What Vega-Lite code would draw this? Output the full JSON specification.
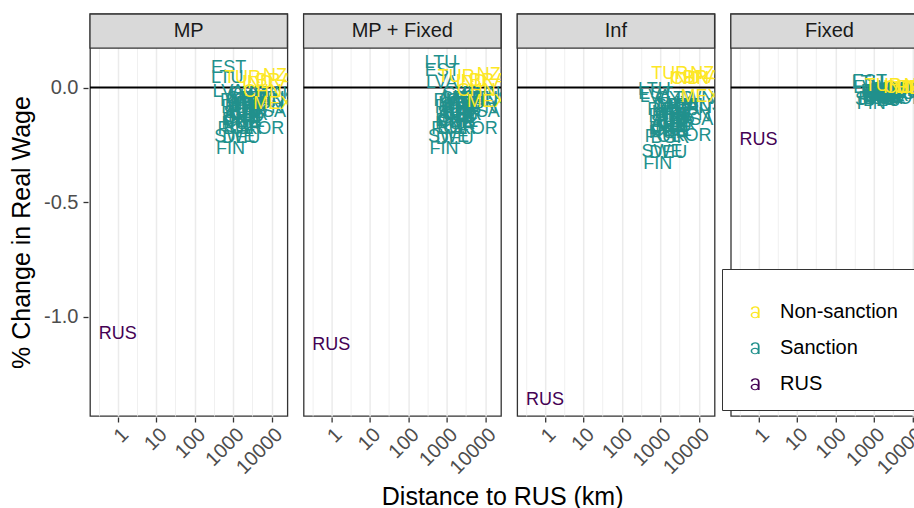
{
  "$schema": "https://vega.github.io/schema/vega-lite/v6.json",
  "padding": {"left": 9, "top": 12, "right": 0, "bottom": 0},
  "config": {
    "font": "Liberation Sans",
    "view": {"stroke": "#333333", "strokeWidth": 1.3, "fill": "white"},
    "axis": {"domain": false, "tickColor": "#333333", "tickWidth": 1.3, "tickSize": 5, "labelColor": "#4d4d4d", "labelFontSize": 20, "labelFont": "Liberation Sans", "titleFont": "Liberation Sans", "titleFontSize": 25, "titleFontWeight": "normal", "titleColor": "black", "gridColor": "#ebebeb"}
  },
  "title": {"text": "Distance to RUS (km)", "orient": "bottom", "anchor": "middle", "fontSize": 25, "fontWeight": "normal", "font": "Liberation Sans", "color": "black", "offset": 8, "dx": 33},
  "data": {"values": [
      {"c": "EST", "g": "Sanction", "d": 760, "MP": 0.085, "MP + Fixed": 0.07, "Inf": -0.03, "Fixed": 0.025},
      {"c": "LTU", "g": "Sanction", "d": 700, "MP": 0.04, "MP + Fixed": 0.105, "Inf": -0.01, "Fixed": 0.02},
      {"c": "LVA", "g": "Sanction", "d": 740, "MP": -0.02, "MP + Fixed": 0.02, "Inf": -0.04, "Fixed": 0.0},
      {"c": "FIN", "g": "Sanction", "d": 850, "MP": -0.27, "MP + Fixed": -0.27, "Inf": -0.335, "Fixed": -0.07},
      {"c": "SWE", "g": "Sanction", "d": 1100, "MP": -0.215, "MP + Fixed": -0.215, "Inf": -0.28, "Fixed": -0.055},
      {"c": "DEU", "g": "Sanction", "d": 1610, "MP": -0.22, "MP + Fixed": -0.225, "Inf": -0.285, "Fixed": -0.06},
      {"c": "POL", "g": "Sanction", "d": 1150, "MP": -0.18, "MP + Fixed": -0.18, "Inf": -0.215, "Fixed": -0.05},
      {"c": "NOR", "g": "Sanction", "d": 1650, "MP": -0.16, "MP + Fixed": -0.16, "Inf": -0.2, "Fixed": -0.045},
      {"c": "DNK", "g": "Sanction", "d": 1560, "MP": -0.14, "MP + Fixed": -0.145, "Inf": -0.18, "Fixed": -0.04},
      {"c": "NLD", "g": "Sanction", "d": 2150, "MP": -0.13, "MP + Fixed": -0.13, "Inf": -0.17, "Fixed": -0.04},
      {"c": "BEL", "g": "Sanction", "d": 2250, "MP": -0.11, "MP + Fixed": -0.115, "Inf": -0.15, "Fixed": -0.035},
      {"c": "LUX", "g": "Sanction", "d": 2300, "MP": -0.04, "MP + Fixed": -0.045, "Inf": -0.07, "Fixed": -0.015},
      {"c": "FRA", "g": "Sanction", "d": 2490, "MP": -0.1, "MP + Fixed": -0.1, "Inf": -0.14, "Fixed": -0.03},
      {"c": "CHE", "g": "Sanction", "d": 2200, "MP": -0.08, "MP + Fixed": -0.085, "Inf": -0.12, "Fixed": -0.025},
      {"c": "AUT", "g": "Sanction", "d": 1670, "MP": -0.12, "MP + Fixed": -0.12, "Inf": -0.16, "Fixed": -0.035},
      {"c": "CZE", "g": "Sanction", "d": 1670, "MP": -0.15, "MP + Fixed": -0.15, "Inf": -0.19, "Fixed": -0.045},
      {"c": "SVK", "g": "Sanction", "d": 1650, "MP": -0.11, "MP + Fixed": -0.11, "Inf": -0.15, "Fixed": -0.035},
      {"c": "HUN", "g": "Sanction", "d": 1570, "MP": -0.09, "MP + Fixed": -0.09, "Inf": -0.13, "Fixed": -0.03},
      {"c": "ROU", "g": "Sanction", "d": 1500, "MP": -0.06, "MP + Fixed": -0.06, "Inf": -0.1, "Fixed": -0.02},
      {"c": "BGR", "g": "Sanction", "d": 1780, "MP": -0.18, "MP + Fixed": -0.18, "Inf": -0.22, "Fixed": -0.05},
      {"c": "SVN", "g": "Sanction", "d": 1800, "MP": -0.13, "MP + Fixed": -0.13, "Inf": -0.17, "Fixed": -0.04},
      {"c": "HRV", "g": "Sanction", "d": 1850, "MP": -0.07, "MP + Fixed": -0.07, "Inf": -0.11, "Fixed": -0.02},
      {"c": "GRC", "g": "Sanction", "d": 2200, "MP": -0.05, "MP + Fixed": -0.05, "Inf": -0.08, "Fixed": -0.015},
      {"c": "CYP", "g": "Sanction", "d": 2300, "MP": -0.03, "MP + Fixed": -0.03, "Inf": -0.05, "Fixed": -0.01},
      {"c": "MLT", "g": "Sanction", "d": 2600, "MP": -0.06, "MP + Fixed": -0.06, "Inf": -0.09, "Fixed": -0.02},
      {"c": "ITA", "g": "Sanction", "d": 2380, "MP": -0.08, "MP + Fixed": -0.08, "Inf": -0.12, "Fixed": -0.025},
      {"c": "ESP", "g": "Sanction", "d": 3440, "MP": -0.07, "MP + Fixed": -0.07, "Inf": -0.1, "Fixed": -0.02},
      {"c": "PRT", "g": "Sanction", "d": 3900, "MP": -0.05, "MP + Fixed": -0.05, "Inf": -0.08, "Fixed": -0.015},
      {"c": "GBR", "g": "Sanction", "d": 2500, "MP": -0.12, "MP + Fixed": -0.12, "Inf": -0.16, "Fixed": -0.035},
      {"c": "IRL", "g": "Sanction", "d": 2800, "MP": -0.15, "MP + Fixed": -0.15, "Inf": -0.19, "Fixed": -0.045},
      {"c": "CAN", "g": "Sanction", "d": 7000, "MP": -0.06, "MP + Fixed": -0.06, "Inf": -0.09, "Fixed": -0.02},
      {"c": "USA", "g": "Sanction", "d": 7800, "MP": -0.105, "MP + Fixed": -0.105, "Inf": -0.14, "Fixed": -0.03},
      {"c": "JPN", "g": "Sanction", "d": 7500, "MP": -0.09, "MP + Fixed": -0.09, "Inf": -0.12, "Fixed": -0.025},
      {"c": "KOR", "g": "Sanction", "d": 6600, "MP": -0.18, "MP + Fixed": -0.18, "Inf": -0.21, "Fixed": -0.05},
      {"c": "TWN", "g": "Sanction", "d": 7300, "MP": -0.03, "MP + Fixed": -0.03, "Inf": -0.05, "Fixed": -0.01},
      {"c": "AUS", "g": "Sanction", "d": 14500, "MP": -0.05, "MP + Fixed": -0.05, "Inf": -0.08, "Fixed": -0.015},
      {"c": "TUR", "g": "Non-sanction", "d": 1750, "MP": 0.04, "MP + Fixed": 0.045, "Inf": 0.057, "Fixed": 0.005},
      {"c": "CHN", "g": "Non-sanction", "d": 5800, "MP": -0.02, "MP + Fixed": -0.015, "Inf": 0.035, "Fixed": 0.0},
      {"c": "IND", "g": "Non-sanction", "d": 4300, "MP": 0.02, "MP + Fixed": 0.025, "Inf": 0.035, "Fixed": 0.0},
      {"c": "BRA", "g": "Non-sanction", "d": 11500, "MP": 0.03, "MP + Fixed": 0.03, "Inf": 0.04, "Fixed": 0.0},
      {"c": "NZL", "g": "Non-sanction", "d": 16500, "MP": 0.05, "MP + Fixed": 0.055, "Inf": 0.06, "Fixed": 0.005},
      {"c": "MEX", "g": "Non-sanction", "d": 10700, "MP": -0.07, "MP + Fixed": -0.065, "Inf": -0.04, "Fixed": -0.005},
      {"c": "RUS", "g": "RUS", "d": 1, "MP": -1.074, "MP + Fixed": -1.122, "Inf": -1.362, "Fixed": -0.23}
  ]},
  "transform": [{"fold": ["MP", "MP + Fixed", "Inf", "Fixed"], "as": ["scenario", "value"]}],
  "facet": {"column": {"field": "scenario", "type": "nominal", "sort": ["MP", "MP + Fixed", "Inf", "Fixed"], "header": null}},
  "spacing": 12.6,
  "spec": {
    "width": 197.4,
    "height": 402,
    "layer": [
      {
        "transform": [{"filter": "datum.c == 'RUS'"}],
        "mark": {"type": "rect", "fill": "#d9d9d9", "stroke": "#333333", "strokeWidth": 1.3},
        "encoding": {"y": {"datum": 0.3205, "type": "quantitative"}, "y2": {"datum": 0.172}}
      },
      {
        "transform": [{"filter": "datum.c == 'RUS'"}],
        "mark": {"type": "rule", "color": "black", "strokeWidth": 1.8},
        "encoding": {"y": {"datum": 0, "type": "quantitative"}}
      },
      {
        "mark": {"type": "text", "fontSize": 18, "clip": true, "font": "Liberation Sans"},
        "encoding": {
          "x": {
            "field": "d", "type": "quantitative",
            "scale": {"type": "log", "domain": [0.19, 25600], "nice": false},
            "title": null,
            "axis": {
              "values": [0.316228, 1, 3.16228, 10, 31.6228, 100, 316.228, 1000, 3162.28, 10000],
              "labelExpr": "indexof([1,10,100,1000,10000], datum.value) >= 0 ? format(datum.value, 'd') : ''",
              "gridWidth": {"condition": {"test": "indexof([1,10,100,1000,10000], datum.value) >= 0", "value": 1.5}, "value": 0.75},
              "tickSize": {"condition": {"test": "indexof([1,10,100,1000,10000], datum.value) >= 0", "value": 5}, "value": 0},
              "labelAngle": -45, "labelAlign": "right", "labelBaseline": "top", "labelPadding": 2,
              "labelOverlap": false, "labelFlush": false
            }
          },
          "y": {
            "field": "value", "type": "quantitative",
            "scale": {"domain": [-1.432, 0.3205], "nice": false, "zero": false},
            "title": "% Change in Real Wage",
            "axis": {
              "values": [-1.25, -1, -0.75, -0.5, -0.25, 0],
              "labelExpr": "indexof([-1,-0.5,0], datum.value) >= 0 ? replace(format(datum.value, '.1f'), '\u2212', '-') : ''",
              "gridWidth": {"condition": {"test": "indexof([-1,-0.5,0], datum.value) >= 0", "value": 1.5}, "value": 0.75},
              "tickSize": {"condition": {"test": "indexof([-1,-0.5,0], datum.value) >= 0", "value": 5}, "value": 0},
              "labelPadding": 5, "titlePadding": 9, "titleY": 218
            }
          },
          "text": {"field": "c", "type": "nominal"},
          "color": {
            "field": "g", "type": "nominal",
            "scale": {"domain": ["Non-sanction", "Sanction", "RUS"], "range": ["#FDE725", "#21908C", "#440154"]},
            "legend": {
              "orient": "none", "legendX": 632, "legendY": 255,
              "title": " ", "titleFontSize": 17, "titlePadding": 0,
              "padding": 16, "symbolOffset": 7,
              "symbolType": "M0.4,-0.3 L0.65,-0.3 L0.65,0.85 L0.4,0.85 Z M-0.6,-0.4 C-0.5,-0.95 0.65,-0.95 0.65,-0.3 L0.4,-0.3 C0.4,-0.72 -0.3,-0.72 -0.36,-0.33 Z M-0.62,0.42 A0.62,0.45 0 1,1 0.62,0.42 A0.62,0.45 0 1,1 -0.62,0.42 Z M-0.38,0.44 A0.38,0.24 0 1,0 0.36,0.44 A0.38,0.24 0 1,0 -0.38,0.44 Z",
              "symbolSize": 200, "symbolStrokeWidth": 0,
              "labelFontSize": 20, "labelFont": "Liberation Sans", "labelColor": "black", "labelOffset": 15,
              "rowPadding": 16,
              "strokeColor": "#333333", "fillColor": "white"
            }
          }
        }
      },
      {
        "transform": [{"filter": "datum.c == 'RUS'"}],
        "mark": {"type": "text", "fontSize": 20, "color": "#1a1a1a", "font": "Liberation Sans"},
        "encoding": {"y": {"datum": 0.246, "type": "quantitative"}, "text": {"field": "scenario", "type": "nominal"}}
      }
    ]
  }
}
